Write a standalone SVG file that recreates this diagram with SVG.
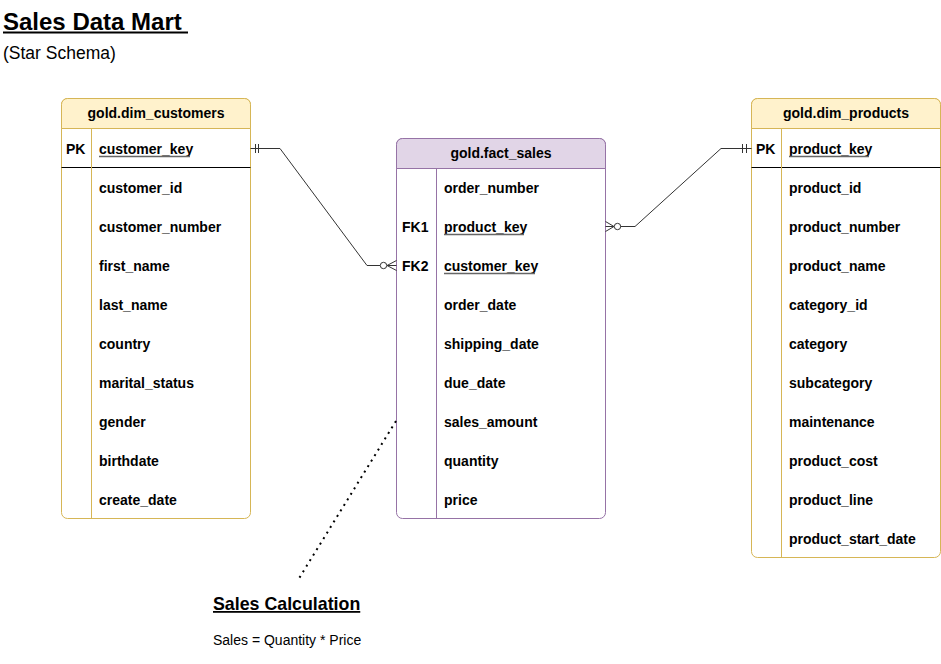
<svg xmlns="http://www.w3.org/2000/svg" width="941" height="664" viewBox="0 0 941 664">
<style>
text{font-family:"Liberation Sans",Arial,sans-serif;fill:#000}
.f{font-size:14px;font-weight:bold}
.hd{font-size:14px;font-weight:bold;text-anchor:middle}
.y{fill:#fff;stroke:#d6b656;stroke-width:1}
.yh{fill:#fff2cc;stroke:#d6b656;stroke-width:1}
.p{fill:#fff;stroke:#9673a6;stroke-width:1}
.ph{fill:#e1d5e7;stroke:#9673a6;stroke-width:1}
.dy{stroke:#d6b656;stroke-width:1}
.dp{stroke:#9673a6;stroke-width:1}
.ul{stroke:#666;stroke-width:1.5}
.c{fill:none;stroke:#333;stroke-width:1}
</style>
<rect width="941" height="664" fill="#fff"/>
<text x="3" y="30" style="font-size:24px;font-weight:bold">Sales Data Mart</text>
<line x1="3" y1="32.5" x2="188" y2="32.5" stroke="#000" stroke-width="2"/>
<text x="3" y="59" style="font-size:17.5px">(Star Schema)</text>

<g id="dim_customers">
<rect class="y" x="61.5" y="98.5" width="189" height="420" rx="6"/>
<path class="yh" d="M61.5,128.5 V104.5 a6,6 0 0 1 6,-6 H244.5 a6,6 0 0 1 6,6 V128.5 Z"/>
<line x1="61.5" y1="167.5" x2="250.5" y2="167.5" stroke="#000"/>
<line class="dy" x1="91.5" y1="128.5" x2="91.5" y2="518.5"/>
<text class="hd" x="156" y="118">gold.dim_customers</text>
<text class="f" x="66" y="154">PK</text>
<text class="f" x="99" y="154">customer_key</text>
<line class="ul" x1="99" y1="156.5" x2="190" y2="156.5"/>
<text class="f" x="99" y="193">customer_id</text>
<text class="f" x="99" y="232">customer_number</text>
<text class="f" x="99" y="271">first_name</text>
<text class="f" x="99" y="310">last_name</text>
<text class="f" x="99" y="349">country</text>
<text class="f" x="99" y="388">marital_status</text>
<text class="f" x="99" y="427">gender</text>
<text class="f" x="99" y="466">birthdate</text>
<text class="f" x="99" y="505">create_date</text>
</g>

<g id="fact_sales">
<rect class="p" x="396.5" y="138.5" width="209" height="380" rx="6"/>
<path class="ph" d="M396.5,168.5 V144.5 a6,6 0 0 1 6,-6 H599.5 a6,6 0 0 1 6,6 V168.5 Z"/>
<line class="dp" x1="436.5" y1="168.5" x2="436.5" y2="518.5"/>
<text class="hd" x="501" y="158">gold.fact_sales</text>
<text class="f" x="444" y="193">order_number</text>
<text class="f" x="402" y="232">FK1</text>
<text class="f" x="444" y="232">product_key</text>
<line class="ul" x1="444" y1="234.5" x2="524" y2="234.5"/>
<text class="f" x="402" y="271">FK2</text>
<text class="f" x="444" y="271">customer_key</text>
<line class="ul" x1="444" y1="273.5" x2="535" y2="273.5"/>
<text class="f" x="444" y="310">order_date</text>
<text class="f" x="444" y="349">shipping_date</text>
<text class="f" x="444" y="388">due_date</text>
<text class="f" x="444" y="427">sales_amount</text>
<text class="f" x="444" y="466">quantity</text>
<text class="f" x="444" y="505">price</text>
</g>

<g id="dim_products">
<rect class="y" x="751.5" y="98.5" width="189" height="459" rx="6"/>
<path class="yh" d="M751.5,128.5 V104.5 a6,6 0 0 1 6,-6 H934.5 a6,6 0 0 1 6,6 V128.5 Z"/>
<line x1="751.5" y1="167.5" x2="940.5" y2="167.5" stroke="#000"/>
<line class="dy" x1="781.5" y1="128.5" x2="781.5" y2="557.5"/>
<text class="hd" x="846" y="118">gold.dim_products</text>
<text class="f" x="756" y="154">PK</text>
<text class="f" x="789" y="154">product_key</text>
<line class="ul" x1="789" y1="156.5" x2="869" y2="156.5"/>
<text class="f" x="789" y="193">product_id</text>
<text class="f" x="789" y="232">product_number</text>
<text class="f" x="789" y="271">product_name</text>
<text class="f" x="789" y="310">category_id</text>
<text class="f" x="789" y="349">category</text>
<text class="f" x="789" y="388">subcategory</text>
<text class="f" x="789" y="427">maintenance</text>
<text class="f" x="789" y="466">product_cost</text>
<text class="f" x="789" y="505">product_line</text>
<text class="f" x="789" y="544">product_start_date</text>
</g>

<g id="sales_calculation">
<text x="213" y="610" style="font-size:17.8px;font-weight:bold;text-decoration:underline">Sales Calculation</text>
<text x="213" y="645" style="font-size:14px">Sales = Quantity * Price</text>
</g>

<g id="connectors">
<polyline class="c" points="250.5,148.5 280,148.5 367,265.5 380,265.5"/>
<line class="c" x1="255.5" y1="144" x2="255.5" y2="153"/>
<line class="c" x1="258.5" y1="144" x2="258.5" y2="153"/>
<circle class="c" cx="383.5" cy="265.5" r="3.2" fill="#fff"/>
<polyline class="c" points="396.5,260.5 387,265.5 396.5,270.5"/>
<line class="c" x1="387" y1="265.5" x2="396.5" y2="265.5"/>

<polyline class="c" points="751.5,148.5 721,148.5 635,226.5 620.5,226.5"/>
<line class="c" x1="742.5" y1="144" x2="742.5" y2="153"/>
<line class="c" x1="746.5" y1="144" x2="746.5" y2="153"/>
<circle class="c" cx="617.5" cy="226.5" r="3.2" fill="#fff"/>
<polyline class="c" points="605.5,221.5 614,226.5 605.5,231.5"/>
<line class="c" x1="605.5" y1="226.5" x2="614" y2="226.5"/>

<line x1="396" y1="421" x2="298" y2="580" stroke="#000" stroke-width="2" stroke-dasharray="2 4.5"/>
</g>
</svg>
